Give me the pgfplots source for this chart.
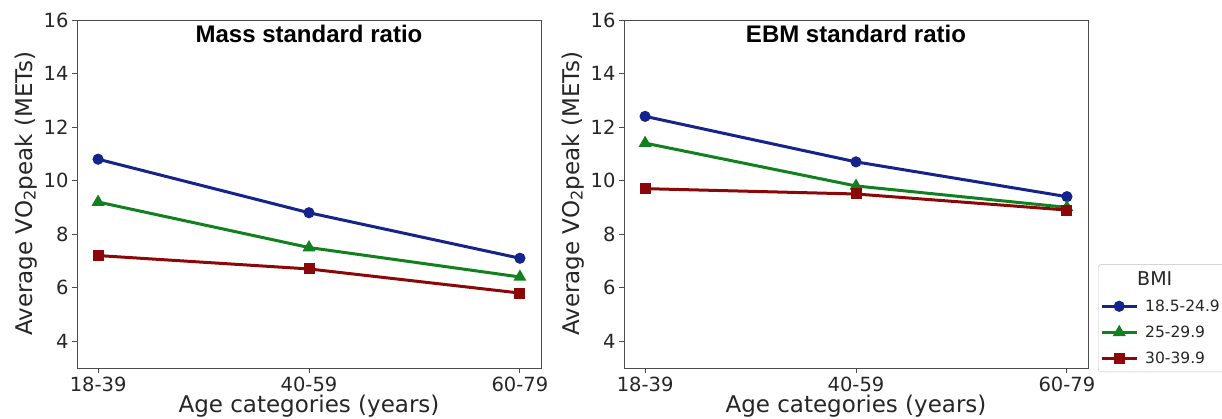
\documentclass[border=0pt]{standalone}
\usepackage{fontspec}
\setmainfont{DejaVu Sans}
\newfontfamily\arialbold{Liberation Sans}[BoldFont={Liberation Sans Bold}]
\usepackage{pgfplots}
\pgfplotsset{compat=1.18}
\definecolor{cblue}{RGB}{20,36,138}
\definecolor{cgreen}{RGB}{18,128,30}
\definecolor{cred}{RGB}{140,8,8}
\pgfplotsset{
  myax/.style={
    scale only axis, width=464pt, height=348pt,
    xmin=-0.1, xmax=2.1, ymin=3, ymax=16,
    xtick={0,1,2}, xticklabels={18-39,40-59,60-79},
    ytick={4,6,8,10,12,14,16},
    tick align=outside, tick pos=left,
    major tick length=5pt,
    axis line style={black!70, line width=0.9pt},
    every tick/.style={black!70, line width=0.9pt},
    /pgf/number format/assume math mode=true,
    ticklabel style={font=\fontsize{19.5}{22}\selectfont, text=black!85},
    label style={font=\fontsize{23}{26}\selectfont, text=black!85},
    xlabel={Age categories (years)},
    ylabel={Average VO\textsubscript{2}peak (METs)},
    xlabel style={yshift=3pt},
    title style={at={(0.5,0.978)}, anchor=north, font=\arialbold\bfseries\fontsize{24}{27}\selectfont},
    every axis plot/.append style={line width=3pt},
  },
  sb/.style={cblue, mark=*, mark size=4pt},
  sg/.style={cgreen, mark=triangle*, mark size=4.5pt},
  sr/.style={cred, mark=square*, mark size=4pt},
}
\begin{document}
\begin{tikzpicture}[x=1pt,y=1pt]
\useasboundingbox (0,0) rectangle (1222,419);
\begin{axis}[myax, at={(77pt,51pt)}, anchor=south west, title={Mass standard ratio}]
\addplot[sb] coordinates {(0,10.8) (1,8.8) (2,7.1)};
\addplot[sg] coordinates {(0,9.2) (1,7.5) (2,6.4)};
\addplot[sr] coordinates {(0,7.2) (1,6.7) (2,5.8)};
\end{axis}
\begin{axis}[myax, at={(624pt,51pt)}, anchor=south west, title={EBM standard ratio},
  legend style={at={(1.0216,-0.0115)}, anchor=south west, font=\fontsize{15.5}{18}\selectfont,
    draw=black!25, rounded corners=3pt, inner xsep=2pt, inner ysep=5pt, row sep=9pt,
    text=black!85, nodes={inner xsep=7pt}},
  legend cell align=left,
  legend image post style={line width=3pt},
  legend image code/.code={\draw[#1] (0pt,0pt) -- (35pt,0pt); \path[#1] plot coordinates {(17.5pt,0pt)};},
]
\addlegendimage{empty legend}
\addlegendentry{\hspace{-8pt}\fontsize{19}{22}\selectfont BMI}
\addplot[sb] coordinates {(0,12.4) (1,10.7) (2,9.4)};
\addlegendentry{18.5-24.9}
\addplot[sg] coordinates {(0,11.4) (1,9.8) (2,9.0)};
\addlegendentry{25-29.9}
\addplot[sr] coordinates {(0,9.7) (1,9.5) (2,8.9)};
\addlegendentry{30-39.9}
\end{axis}
\end{tikzpicture}
\end{document}
